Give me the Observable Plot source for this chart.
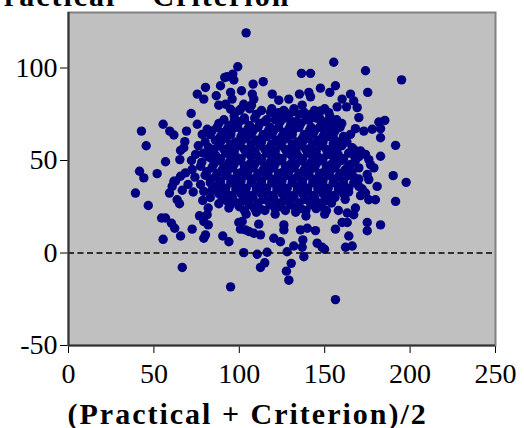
<!DOCTYPE html>
<html><head><meta charset="utf-8">
<script src="https://cdn.jsdelivr.net/npm/d3@7"></script>
<script src="https://cdn.jsdelivr.net/npm/@observablehq/plot@0.6"></script>
<style>body{margin:0;background:#fff;overflow:hidden;}</style>
</head><body><div id="chart"></div>
<script>
const titleText = "Practical – Criterion";
const xLabel = "(Practical + Criterion)/2";
const xTicks = [0, 50, 100, 150, 200, 250];
const yTicks = [-50, 0, 50, 100];

// [mean, difference] pairs
const upperPoints = [
  [104.0,119.0],[99.1,100.7],[96.2,96.7],[96.8,93.5],[92.9,95.3],
  [91.5,94.9],[80.2,89.5],[75.4,85.9],[79.2,83.2],[89.0,90.4],[86.5,85.0],[88.0,79.9],
  [71.8,75.4],[75.4,69.6],[55.4,69.6],[42.7,65.9],[59.3,65.9],[61.7,63.8],[69.1,65.9],
  [45.5,58.0],[68.1,60.2],[67.5,56.9],[65.6,55.4],[65.2,50.5],[56.8,49.3],[78.3,64.1],
  [81.2,66.9],[74.4,53.3],[81.2,53.3],[83.1,51.5],
  [136.4,97.1],[141.7,97.1],[147.5,89.1],[108.1,91.3],[114.0,92.6],[101.3,87.7],[94.9,86.8],
  [95.8,83.2],[107.6,85.9],[108.5,83.2],[107.1,79.9],[119.3,85.9],[123.1,82.6],[129.0,83.2],
  [135.2,85.9],[140.7,86.8],[141.7,84.4],[136.8,79.9],[102.6,80.4],[100.7,77.7],[118.3,75.9],
  [123.1,75.9],[127.0,75.9],[131.9,76.5],[142.7,75.4],[147.5,76.8],[91.9,80.4],[94.9,77.7],
  [155.3,103.1],[173.9,98.5],[195.0,93.6],[153.0,86.8],[156.3,90.4],[160.2,83.2],[165.1,85.9],
  [167.0,82.2],[169.0,78.6],[162.8,79.0],[157.3,79.0],[175.2,86.8],[170.0,73.2],[181.7,70.8],
  [185.2,71.7],[182.7,67.2],[182.7,62.3],[191.5,58.2],[182.7,52.3],[177.8,66.9],[172.9,65.9],
  [168.0,67.2],[165.1,64.1],[162.2,61.4],[166.1,56.9],[171.0,55.1],[173.9,53.3],[175.8,50.5],
  [152.4,75.9],[156.3,71.4],[149.5,69.6],[155.3,61.4],[151.5,53.3],[157.3,50.5],[165.1,47.8]
];
const leftPoints = [
  [41.6,44.2],[44.1,40.6],[51.9,42.9],[39.2,32.4],[46.7,25.7],[54.5,18.9],[56.8,18.9],
  [55.4,7.4],[60.3,16.1],[62.2,13.4],[65.6,9.2],[66.6,-7.8],[59.1,32.4],[63.6,28.8],
  [65.0,26.6],[66.6,33.9],[62.6,38.8],[65.6,41.5],[68.5,43.3],[72.4,12.9],[79.2,8.0],
  [80.2,9.8],[76.7,20.1],[79.2,17.0],[81.8,15.2],[81.8,24.3],[81.2,20.7],[78.6,28.4],
  [88.0,26.6],[90.3,9.2],[93.9,6.1],[94.9,-18.3],[60.7,36.0],[61.7,38.8],[72.4,45.1],
  [77.3,46.9],[77.3,37.0],[79.2,33.3],[87.1,34.2],[94.9,26.1],[93.9,24.3],[101.7,17.0],
  [103.6,12.5],[108.5,10.7],[112.4,9.8]
];
const lowerPoints = [
  [102.6,0.2],[110.5,-0.7],[116.3,0.4],[114.9,-5.3],[112.4,-7.8],[128.0,0.7],[130.4,-5.6],
  [127.6,-9.8],[129.0,-14.7],[137.8,-2.0],[131.9,3.8],[136.8,3.1],[137.2,7.1],[145.6,5.3],
  [148.5,3.1],[99.7,16.5],[100.7,12.9],[105.6,11.6],[111.4,15.6],[120.2,8.0],[124.1,6.1],
  [126.1,12.5],[126.1,15.2],[135.8,12.5],[139.8,13.4],[144.6,12.1]
];
const rightPoints = [
  [156.3,-25.2],[149.9,2.0],[162.2,3.1],[166.1,3.8],[164.1,9.2],[156.3,12.9],[174.9,16.5],
  [174.9,12.0],[182.7,15.2],[160.2,16.5],[163.2,16.5],[167.0,20.7],[168.0,24.3],[191.5,27.9],
  [190.1,41.8],[197.7,38.2],[176.8,47.8],[178.8,46.0],[174.9,42.4],[175.8,39.7],[163.2,21.6],
  [173.9,32.4],[175.8,28.8],[179.7,28.8],[180.7,36.0],[172.0,34.6],[171.0,31.0]
];
const corePoints = [
  [97,74],[103,73],[110,75],[116,72],[122,74],[129,73],[135,75],[141,72],[147,73],[153,74],
  [88,70],[94,69],[100,71],[106,69],[112,70],[118,68],[124,71],[130,69],[136,70],[142,68],[148,71],[154,69],[160,70],
  [84,66],[90,65],[96,67],[102,65],[108,66],[114,64],[120,66],[126,65],[132,67],[138,64],[144,66],[150,65],[156,66],
  [86,61],[92,62],[98,60],[104,62],[110,61],[116,63],[122,61],[128,62],[134,60],[140,62],[146,61],[152,63],[158,60],
  [76,58],[82,57],[88,58],[94,57],[100,58],[106,56],[112,58],[118,57],[124,58],[130,56],[136,58],[142,57],[148,58],[154,56],[160,58],
  [79,54],[86,53],[92,54],[98,52],[104,54],[110,53],[116,54],[122,52],[128,54],[134,53],[140,54],[146,52],[152,54],[158,53],[164,54],[170,52],
  [72,50],[78,49],[88,50],[94,49],[100,50],[106,48],[112,50],[118,49],[124,50],[130,48],[136,50],[142,49],[148,50],[154,48],[160,50],[168,50],
  [84,46],[90,45],[96,46],[102,44],[108,46],[114,45],[120,46],[126,44],[132,46],[138,45],[144,46],[150,44],[156,46],[162,45],[170,46],
  [74,41],[80,42],[86,41],[92,42],[98,40],[104,42],[110,41],[116,42],[122,40],[128,42],[134,41],[140,42],[146,40],[152,42],[158,41],[164,42],[170,40],
  [70,37],[83,38],[89,37],[95,38],[101,36],[107,38],[113,37],[119,38],[125,36],[131,38],[137,37],[143,38],[149,36],[155,38],[161,37],[167,38],
  [73,33],[84,34],[92,33],[98,34],[104,32],[110,34],[116,33],[122,34],[128,32],[134,34],[140,33],[146,34],[152,32],[158,34],[164,33],
  [83,30],[90,29],[96,30],[102,28],[108,30],[114,29],[120,30],[126,28],[132,30],[138,29],[144,30],[150,28],[156,30],[162,29],
  [100,25],[106,26],[112,24],[118,26],[124,25],[130,26],[136,24],[142,26],[148,25],[154,27],
  [104,21],[110,22],[121,21],[133,22],[139,20],[150,21],[158,23]
];
const coreFillPoints = [
  [100,77],[106,78],[113,77],[119,78],[126,77],[132,78],[138,76],[144,77],[150,78],
  [91,72],[97,71],[103,72],[109,73],[115,71],[121,72],[127,73],[133,71],[139,72],[145,73],[151,71],[157,72],
  [87,68],[93,67],[99,68],[105,67],[111,68],[117,66],[123,68],[129,67],[135,68],[141,66],[147,68],[153,67],[159,68],
  [83,64],[89,63],[95,64],[101,63],[107,64],[113,62],[119,64],[125,63],[131,64],[137,62],[143,64],[149,63],[155,64],[161,63],
  [80,60],[89,60],[95,59],[101,60],[107,59],[113,60],[119,59],[125,60],[131,59],[137,60],[143,59],[149,60],[155,59],[163,60],
  [85,56],[91,56],[97,55],[103,56],[109,55],[115,56],[121,55],[127,56],[133,55],[139,56],[145,55],[151,56],[157,55],[167,56],
  [82,52],[89,51],[95,52],[101,51],[107,52],[113,51],[119,52],[125,51],[131,52],[137,51],[143,52],[149,51],[155,52],[161,51],[167,53],
  [85,48],[91,47],[97,48],[103,47],[109,48],[115,47],[121,48],[127,47],[133,48],[139,47],[145,48],[151,47],[157,48],[164,47],
  [81,44],[87,43],[93,44],[99,43],[105,44],[111,43],[117,44],[123,43],[129,44],[135,43],[141,44],[147,43],[153,44],[159,43],[166,44],
  [83,40],[89,39],[95,40],[101,39],[107,40],[113,39],[119,40],[125,39],[131,40],[137,39],[143,40],[149,39],[155,40],[161,39],[167,41],
  [86,36],[92,35],[98,36],[104,35],[110,36],[116,35],[122,36],[128,35],[134,36],[140,35],[146,36],[152,35],[158,36],[164,35],[170,36],
  [88,32],[95,31],[101,32],[107,31],[113,32],[119,31],[125,32],[131,31],[137,32],[143,31],[149,32],[155,31],[161,32],
  [93,28],[99,27],[105,28],[111,27],[117,28],[123,27],[129,28],[135,27],[141,28],[147,27],[153,28],
  [103,23],[109,24],[115,23],[121,24],[127,23],[133,24],[139,23],[145,24],[151,23]
];

const data = [...upperPoints, ...leftPoints, ...lowerPoints, ...rightPoints, ...corePoints, ...coreFillPoints]
  .map(([mean, diff]) => ({mean, diff}));

const chart = Plot.plot({
  width: 524,
  height: 428,
  marginLeft: 68,
  marginRight: 29,
  marginTop: 12,
  marginBottom: 83,
  style: {fontFamily: "'Liberation Serif', serif", fontSize: "28px", color: "#000", background: "#fff", overflow: "visible"},
  x: {domain: [0, 250], ticks: xTicks, tickSize: 8, tickPadding: 10, label: null, tickFormat: d => String(d)},
  y: {domain: [-50, 130], ticks: yTicks, tickSize: 8, tickPadding: 3, label: null, tickFormat: d => String(d)},
  marks: [
    Plot.frame({fill: "#c0c0c0", stroke: "#808080", strokeWidth: 2}),
    Plot.dot(data, {x: "mean", y: "diff", r: 4.7, fill: "#000080"}),
    Plot.ruleY([0], {stroke: "#000", strokeWidth: 1.5, strokeDasharray: "6,3.5"}),
    Plot.ruleX([0], {stroke: "#333", strokeWidth: 2}),
    Plot.ruleY([-50], {stroke: "#333", strokeWidth: 2}),
    Plot.text([titleText], {frameAnchor: "top-left", dx: -85, dy: -28, textAnchor: "start", fontWeight: "bold", fontSize: 30}),
    Plot.text([xLabel], {frameAnchor: "bottom-left", dx: -1, dy: 78, textAnchor: "start", fontWeight: "bold", fontSize: 30})
  ]
});
d3.select(chart).selectAll("text")
  .filter(function() { return this.textContent === xLabel || this.textContent === titleText; })
  .attr("letter-spacing", "2px");
document.getElementById("chart").appendChild(chart);
</script>
</body></html>
